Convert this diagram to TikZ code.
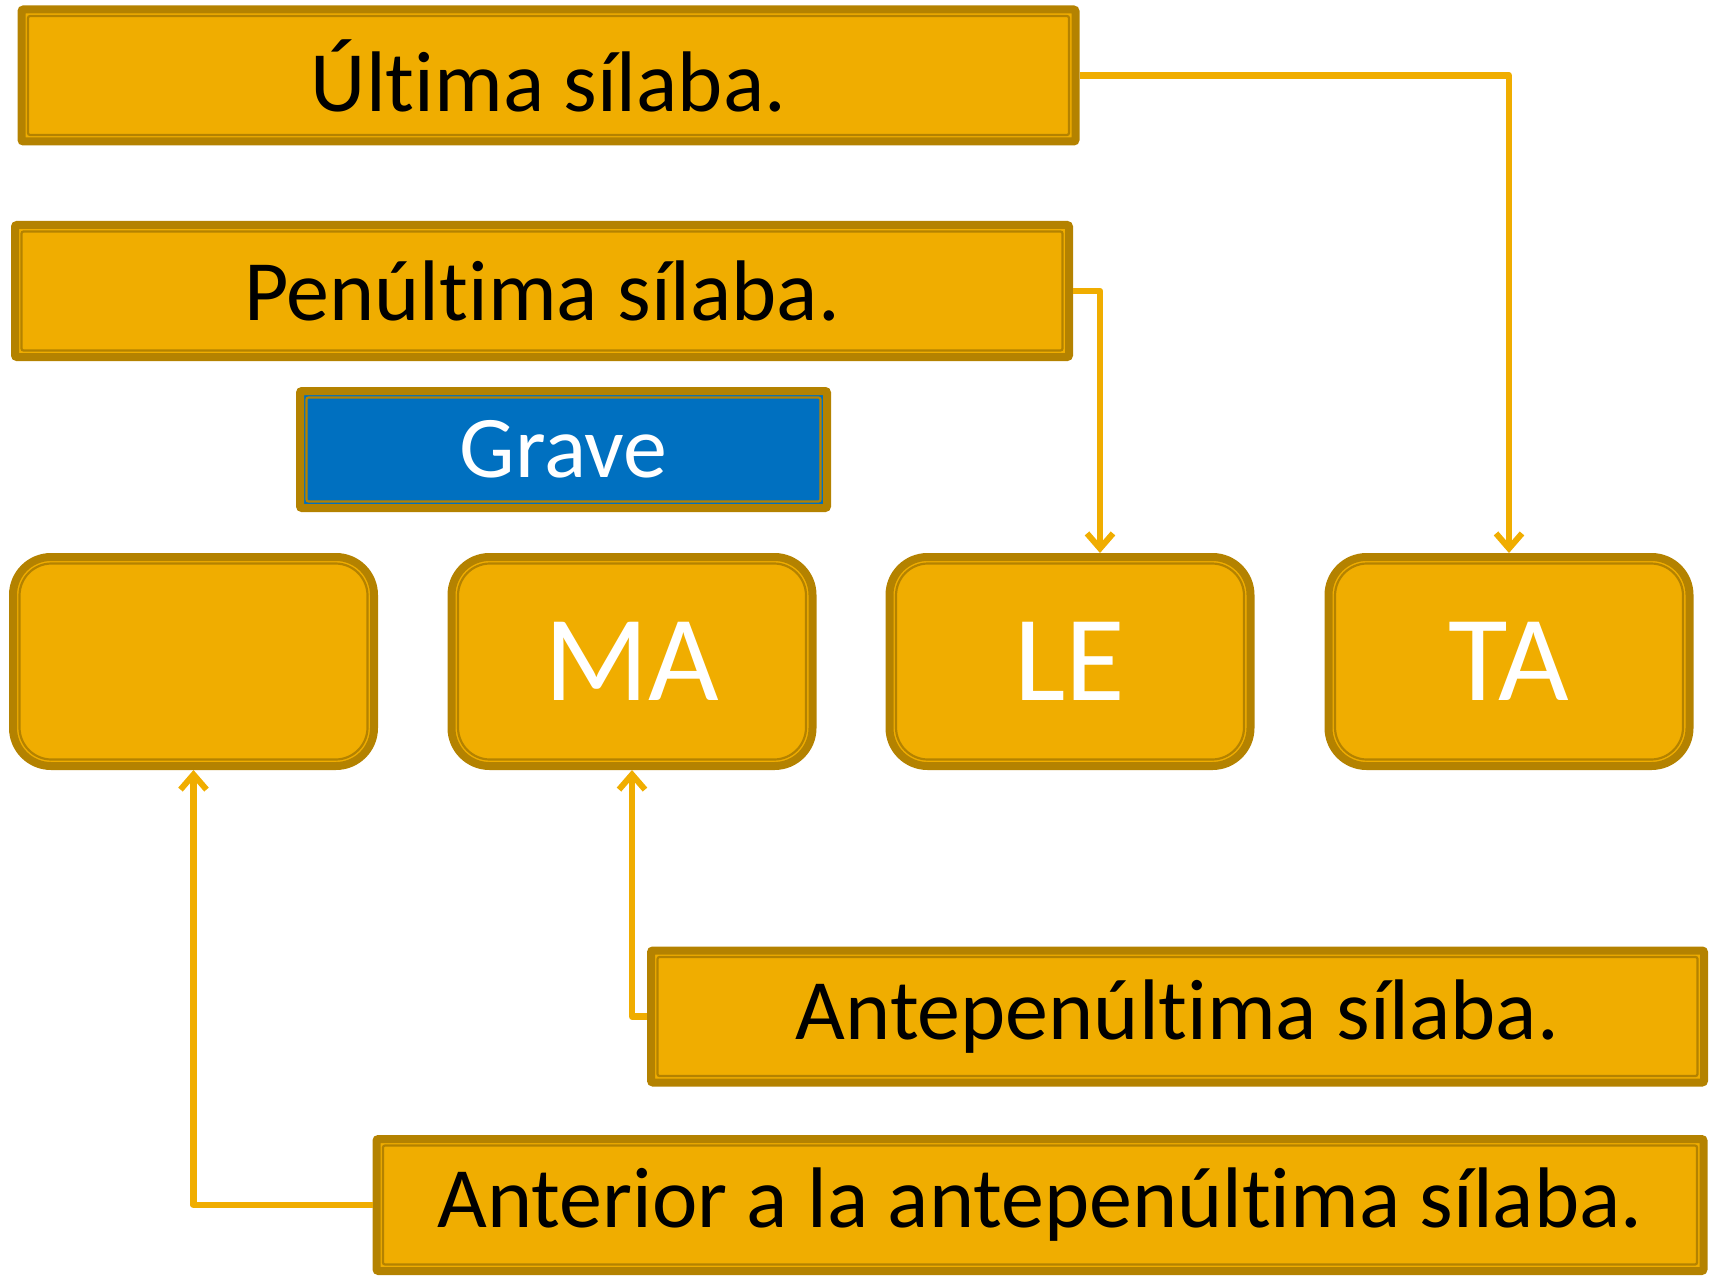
\documentclass[tikz,border=0pt]{standalone}
\usepackage{fontspec}
\setmainfont[Ligatures=NoCommon]{Carlito}
\usetikzlibrary{arrows.meta}
\definecolor{gold}{RGB}{240,173,0}
\definecolor{darkgold}{RGB}{180,130,0}
\definecolor{blueg}{RGB}{0,112,192}
\tikzset{
  labelbox/.style={draw=darkgold, fill=gold, line width=8pt, rounded corners=2pt,
    minimum height=132pt, inner sep=0pt, font=\fontsize{86}{100}\selectfont, text=black,
    path picture={\draw[darkgold, line width=2.2pt]
      ([xshift=6.5pt,yshift=-6.5pt]path picture bounding box.north west) rectangle
      ([xshift=-6.5pt,yshift=6.5pt]path picture bounding box.south east);}},
  bluebox/.style={labelbox, fill=blueg, text=white, font=\fontsize{88}{100}\selectfont},
  sylbox/.style={draw=darkgold, fill=gold, line width=8pt, rounded corners=38pt,
    minimum width=361pt, minimum height=209pt, inner sep=0pt,
    font=\fontsize{122}{130}\selectfont, text=white,
    path picture={\draw[darkgold, line width=2.2pt, rounded corners=32pt]
      ([xshift=6.5pt,yshift=-6.5pt]path picture bounding box.north west) rectangle
      ([xshift=-6.5pt,yshift=6.5pt]path picture bounding box.south east);}},
  conn/.style={draw=gold, line width=6.5pt, line join=round,
    -{Straight Barb[length=15pt,width=26pt,line width=6pt]}}
}
\begin{document}
\begin{tikzpicture}[x=1pt,y=-1pt]
\useasboundingbox (0,0) rectangle (1713,1276);
\node[labelbox, minimum width=1054pt] (ult) at (548.5,75.5) {Última sílaba.};
\node[labelbox, minimum width=1054pt] (pen) at (542,291) {Penúltima sílaba.};
\node[bluebox, minimum width=527pt, minimum height=117pt] (grave) at (563.5,449.5) {Grave};
\node[sylbox] (s1) at (193.5,661.5) {};
\node[sylbox] (s2) at (632,661.5) {MA};
\node[sylbox] (s3) at (1070,661.5) {LE};
\node[sylbox] (s4) at (1509,661.5) {TA};
\node[labelbox, minimum width=1053pt] (ante) at (1177.5,1016.5) {Antepenúltima sílaba.};
\node[labelbox, minimum width=1327pt] (anter) at (1040,1205) {Anterior a la antepenúltima sílaba.};
\coordinate (lein) at (1100,553);
\draw[conn] (ult.east) -| (s4.north);
\draw[conn] (pen.east) -| (lein);
\draw[conn] (ante.west) -| (s2.south);
\draw[conn] (anter.west) -| (s1.south);
\end{tikzpicture}
\end{document}
